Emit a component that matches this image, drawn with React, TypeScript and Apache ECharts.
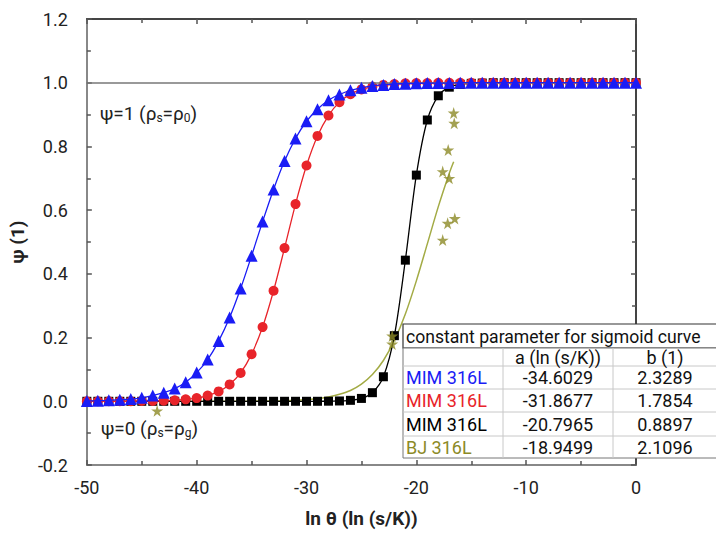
import React, { useEffect, useRef } from "react";
import * as echarts from "echarts";

const lnTheta = [-50,-49,-48,-47,-46,-45,-44,-43,-42,-41,-40,-39,-38,-37,-36,-35,-34,-33,-32,-31,-30,-29,-28,-27,-26,-25,-24,-23,-22,-21,-20,-19,-18,-17,-16,-15,-14,-13,-12,-11,-10,-9,-8,-7,-6,-5,-4,-3,-2,-1,0];

const mimBlue = [0.001,0.002,0.003,0.005,0.007,0.011,0.018,0.027,0.040,0.060,0.090,0.131,0.189,0.263,0.354,0.457,0.564,0.665,0.754,0.825,0.879,0.917,0.945,0.963,0.976,0.984,0.990,0.993,0.996,0.997,0.998,0.999,0.999,0.999,1,1,1,1,1,1,1,1,1,1,1,1,1,1,1,1,1];

const mimRed = [0,0,0,0,0,0.001,0.001,0.002,0.003,0.006,0.010,0.018,0.031,0.053,0.089,0.148,0.233,0.347,0.481,0.619,0.740,0.833,0.897,0.939,0.964,0.979,0.988,0.993,0.996,0.998,0.999,0.999,1,1,1,1,1,1,1,1,1,1,1,1,1,1,1,1,1,1,1];

const mimBlack = [0,0,0,0,0,0,0,0,0,0,0,0,0,0,0,0,0,0,0,0,0,0,0.0003,0.001,0.003,0.009,0.027,0.077,0.206,0.443,0.710,0.883,0.959,0.986,0.995,0.998,0.999,1,1,1,1,1,1,1,1,1,1,1,1,1,1];

const bjFitX = [-50,-45,-40,-35,-32,-30,-29,-28,-27,-26,-25,-24,-23,-22,-21,-20,-19,-18,-17,-16.6];
const bjFitY = [0,0,0.0001,0.0005,0.002,0.005,0.0085,0.0135,0.022,0.034,0.054,0.084,0.128,0.191,0.274,0.378,0.494,0.611,0.716,0.752];

const bjStarX = [-43.6,-22.2,-22.2,-17.6,-17.15,-16.5,-17.6,-17.0,-17.1,-16.6,-16.55];
const bjStarY = [-0.03,0.205,0.18,0.506,0.559,0.574,0.721,0.70,0.789,0.905,0.873];

const tableTitle = "constant parameter for sigmoid curve";
const tableHeader = ["", "a (ln (s/K))", "b (1)"];
const tableNames = ["MIM 316L", "MIM 316L", "MIM 316L", "BJ 316L"];
const tableA = ["-34.6029", "-31.8677", "-20.7965", "-18.9499"];
const tableB = ["2.3289", "1.7854", "0.8897", "2.1096"];

const xTicks = [-50, -40, -30, -20, -10, 0];

const BLUE = "#1a1cf5";
const RED = "#e8242a";
const BLACK = "#000000";
const OLIVE = "#8c8a26";
const OLIVE_LINE = "#a3ab45";
const FONT = "Roboto, 'Noto Sans', sans-serif";
const STAR = "path://M50,0 L61,35 L98,35 L68,57 L79,91 L50,70 L21,91 L32,57 L2,35 L39,35 Z";

const zip = (xs: number[], ys: number[]) => xs.map((x, i) => [x, ys[i]]);

export default function App() {
  const ref = useRef<HTMLDivElement>(null);
  useEffect(() => {
    document.body.style.margin = "0";
    const chart = echarts.init(ref.current!, null, { renderer: "svg" });
    const axisCommon = {
      splitLine: { show: false },
      axisTick: { show: true, inside: true, length: 5, lineStyle: { color: "#555", width: 1.5 } },
      minorTick: { show: true, splitNumber: 2, length: 4, lineStyle: { color: "#555", width: 1.5 } },
      minorSplitLine: { show: false },
    };
    const tblLeft = 403, tblRight = 717;
    const rowsY = [348, 366, 389, 412, 436, 458];
    const colX = [403, 503, 613, 717];
    const tColors = [BLUE, RED, BLACK, OLIVE];
    const graphics: any[] = [];
    graphics.push({ type: "rect", z: 100, shape: { x: tblLeft, y: 324, width: tblRight - tblLeft, height: 24 }, style: { fill: "#fff", stroke: "#333", lineWidth: 1.2 } });
    graphics.push({ type: "text", z: 101, x: tblLeft + 3, y: 336.5, style: { text: tableTitle, font: `17.6px ${FONT}`, fill: "#111", verticalAlign: "middle", align: "left" } });
    graphics.push({ type: "rect", z: 100, shape: { x: tblLeft, y: 348, width: tblRight - tblLeft, height: 110 }, style: { fill: "#fff", stroke: "#777", lineWidth: 1 } });
    for (let i = 1; i < rowsY.length - 1; i++) {
      graphics.push({ type: "line", z: 101, shape: { x1: tblLeft, y1: rowsY[i], x2: tblRight, y2: rowsY[i] }, style: { stroke: "#c8c8c8", lineWidth: 1 } });
    }
    for (let j = 1; j < colX.length - 1; j++) {
      graphics.push({ type: "line", z: 101, shape: { x1: colX[j], y1: 348, x2: colX[j], y2: 458 }, style: { stroke: "#c8c8c8", lineWidth: 1 } });
    }
    const colCenter = (j: number) => (colX[j] + colX[j + 1]) / 2;
    const rowCenter = (i: number) => (rowsY[i] + rowsY[i + 1]) / 2;
    tableHeader.forEach((h, j) => {
      if (!h) return;
      graphics.push({ type: "text", z: 102, x: colCenter(j), y: rowCenter(0), style: { text: h, font: `18px ${FONT}`, fill: "#111", align: "center", verticalAlign: "middle" } });
    });
    tableNames.forEach((n, i) => {
      graphics.push({ type: "text", z: 102, x: tblLeft + 3, y: rowCenter(i + 1), style: { text: n, font: `18px ${FONT}`, fill: tColors[i], align: "left", verticalAlign: "middle" } });
      graphics.push({ type: "text", z: 102, x: colCenter(1), y: rowCenter(i + 1), style: { text: tableA[i], font: `18px ${FONT}`, fill: "#111", align: "center", verticalAlign: "middle" } });
      graphics.push({ type: "text", z: 102, x: colCenter(2), y: rowCenter(i + 1), style: { text: tableB[i], font: `18px ${FONT}`, fill: "#111", align: "center", verticalAlign: "middle" } });
    });
    const richAnno = {
      n: { fontSize: 19, fontFamily: FONT, color: "#222" },
      s: { fontSize: 12, fontFamily: FONT, color: "#222", padding: [10, 0, 0, 0] },
    };
    graphics.push({ type: "text", z: 50, x: 100, y: 113, style: { text: "{n|ψ=1 (ρ}{s|s}{n|=ρ}{s|0}{n|)}", rich: richAnno, fill: "#222", verticalAlign: "middle" } });
    graphics.push({ type: "text", z: 50, x: 101, y: 428, style: { text: "{n|ψ=0 (ρ}{s|s}{n|=ρ}{s|g}{n|)}", rich: richAnno, fill: "#222", verticalAlign: "middle" } });

    const lineSeries = (name: string, ys: number[], color: string, symbol: string, size: number, z: number) => ({
      type: "line",
      name,
      data: zip(lnTheta, ys),
      smooth: 0.3,
      symbol,
      symbolSize: size,
      itemStyle: { color },
      lineStyle: { color, width: 1.3 },
      z,
    });

    chart.setOption({
      animation: false,
      backgroundColor: "#fff",
      textStyle: { fontFamily: FONT },
      grid: { left: 82, right: 80, top: 19, bottom: 68 },
      xAxis: [
        {
          type: "value", min: -50, max: 0, interval: 10, position: "bottom",
          axisLine: { show: true, onZero: false, lineStyle: { color: "#888", width: 2 } },
          axisLabel: { show: true, fontSize: 18, color: "#222", margin: 13, fontFamily: FONT, formatter: (v: number) => (xTicks.includes(v) ? String(v) : "") },
          name: "ln θ (ln (s/K))", nameLocation: "middle", nameGap: 44,
          nameTextStyle: { fontSize: 19, fontWeight: "bold", color: "#222", fontFamily: FONT },
          ...axisCommon,
        },
        {
          type: "value", min: -50, max: 0, interval: 10, position: "top",
          axisLine: { show: true, onZero: false, lineStyle: { color: "#444", width: 2 } },
          axisLabel: { show: false },
          ...axisCommon,
        },
      ],
      yAxis: [
        {
          type: "value", min: -0.2, max: 1.2, interval: 0.2, position: "left",
          axisLine: { show: true, onZero: false, lineStyle: { color: "#888", width: 2 } },
          axisLabel: { show: true, fontSize: 18, color: "#222", margin: 19, fontFamily: FONT, formatter: (v: number) => v.toFixed(1) },
          name: "ψ (1)", nameLocation: "middle", nameGap: 49, nameRotate: 90,
          nameTextStyle: { fontSize: 19, fontWeight: "bold", color: "#222", fontFamily: FONT },
          ...axisCommon,
        },
        {
          type: "value", min: -0.2, max: 1.2, interval: 0.2, position: "right",
          axisLine: { show: true, onZero: false, lineStyle: { color: "#444", width: 2 } },
          axisLabel: { show: false },
          ...axisCommon,
        },
      ],
      series: [
        {
          type: "line", name: "BJ 316L fit", data: zip(bjFitX, bjFitY), smooth: 0.3, symbol: "none",
          lineStyle: { color: OLIVE_LINE, width: 1.5 }, z: 2,
          markLine: {
            silent: true, symbol: "none", label: { show: false },
            lineStyle: { color: "#777", width: 1.5, type: "solid" },
            data: [{ yAxis: 1 }],
          },
        },
        lineSeries("MIM 316L (black)", mimBlack, BLACK, "rect", 9, 3),
        lineSeries("MIM 316L (red)", mimRed, RED, "circle", 10, 4),
        lineSeries("MIM 316L (blue)", mimBlue, BLUE, "triangle", 12, 5),
        {
          type: "scatter", name: "BJ 316L", data: zip(bjStarX, bjStarY), symbol: STAR, symbolSize: 12,
          itemStyle: { color: OLIVE }, z: 6,
        },
      ],
      graphic: graphics,
    });
    return () => chart.dispose();
  }, []);
  return <div ref={ref} style={{ width: 716, height: 533 }} />;
}
